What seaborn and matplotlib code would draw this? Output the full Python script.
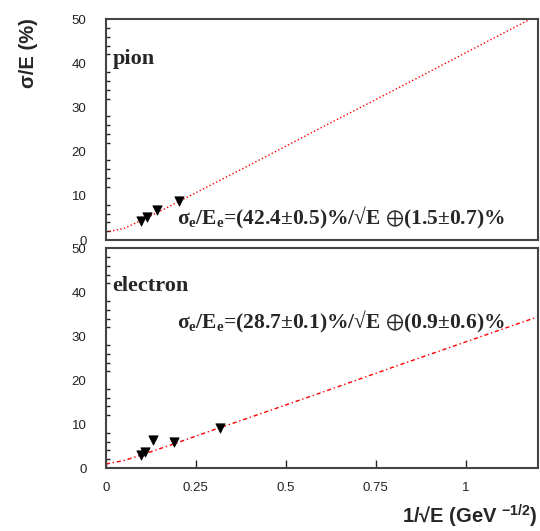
import numpy as np
import matplotlib
matplotlib.use("Agg")
import matplotlib.pyplot as plt
import seaborn as sns

# Data
pion_x = [0.099, 0.113, 0.141, 0.203]
pion_y = [4.4, 5.1, 6.8, 8.9]
elec_x = [0.097, 0.108, 0.132, 0.190, 0.318]
elec_y = [2.9, 3.7, 6.3, 6.0, 9.2]

# fit curves
fit_x = [0.0, 0.05, 0.1, 0.15, 0.2, 0.3, 0.4, 0.6, 0.8, 1.0, 1.2]
pion_fit = [1.8, 2.6, 4.5, 6.5, 8.6, 12.8, 17.0, 25.5, 33.9, 42.4, 50.9]
elec_fit = [0.9, 1.7, 3.0, 4.4, 5.8, 8.7, 11.5, 17.2, 23.0, 28.7, 34.4]

x_ticks = [0, 0.25, 0.5, 0.75, 1]
x_ticklabels = ["0", "0.25", "0.5", "0.75", "1"]
y_ticks = [0, 10, 20, 30, 40, 50]

pion_label = "pion"
elec_label = "electron"
pion_formula = r"$\sigma_e/E_e$=(42.4±0.5)%/√E $\oplus$(1.5±0.7)%"
elec_formula = r"$\sigma_e/E_e$=(28.7±0.1)%/√E $\oplus$(0.9±0.6)%"

sns.set_theme(style="white")
plt.rcParams["font.family"] = ["Liberation Sans", "DejaVu Sans"]
plt.rcParams["mathtext.fontset"] = "custom"
plt.rcParams["mathtext.rm"] = "Liberation Serif:bold"
plt.rcParams["mathtext.it"] = "Liberation Serif:bold"
plt.rcParams["mathtext.bf"] = "Liberation Serif:bold"
plt.rcParams["mathtext.sf"] = "Liberation Sans:bold"
plt.rcParams["mathtext.fallback"] = "stix"

fig = plt.figure(figsize=(5.4, 5.31), dpi=100)
ax1 = fig.add_axes([0.196, 0.548, 0.8, 0.416])
ax2 = fig.add_axes([0.196, 0.1186, 0.8, 0.414])

serif = ["Liberation Serif", "DejaVu Serif"]

for ax, xs, ys, fy, ls, name, npos, formula, fpos in [
    (ax1, pion_x, pion_y, pion_fit, ":", pion_label, 0.82, pion_formula, (0.165, 0.10)),
    (ax2, elec_x, elec_y, elec_fit, (0, (3, 2, 1, 2)), elec_label, 0.83, elec_formula, (0.165, 0.665)),
]:
    sns.lineplot(x=fit_x, y=fy, ax=ax, color="red", linestyle=ls, lw=1.0,
                 estimator=None, sort=False)
    sns.scatterplot(x=xs, y=ys, ax=ax, marker="v", s=45, color="black",
                    edgecolor="black", zorder=5)
    ax.set_xlim(0, 1.2)
    ax.set_ylim(0, 50)
    ax.set_yticks(y_ticks)
    ax.set_yticks(np.arange(0, 51, 2), minor=True)
    ax.tick_params(axis="y", which="major", direction="in", length=6.5,
                   width=1, labelsize=9.5, labelcolor="#222222", pad=14)
    ax.tick_params(axis="y", which="minor", direction="in", length=3, width=1, left=True)
    for s in ax.spines.values():
        s.set_color("#444444")
        s.set_linewidth(1.5)
    ax.text(0.015, npos, name, transform=ax.transAxes,
            fontsize=16, fontweight="bold", family=serif, ha="left", va="center")
    ax.text(fpos[0], fpos[1], formula, transform=ax.transAxes,
            fontsize=15.5, fontweight="bold", family=serif, ha="left", va="center")

ax1.set_xticks([])
ax2.set_xticks(x_ticks)
ax2.set_xticklabels(x_ticklabels)
ax2.tick_params(axis="x", direction="in", length=6, width=1, labelsize=9.5,
                labelcolor="#222222", pad=10, bottom=True)

fig.text(0.052, 0.90, "σ/E (%)", rotation=90, fontsize=14.5, fontweight="bold",
         ha="center", va="center")
fig.text(0.995, 0.004, r"1/√E (GeV $^{\mathsf{-1/2}}$)", fontsize=14.5,
         fontweight="bold", ha="right", va="bottom")

fig.savefig("out.png", dpi=100)
